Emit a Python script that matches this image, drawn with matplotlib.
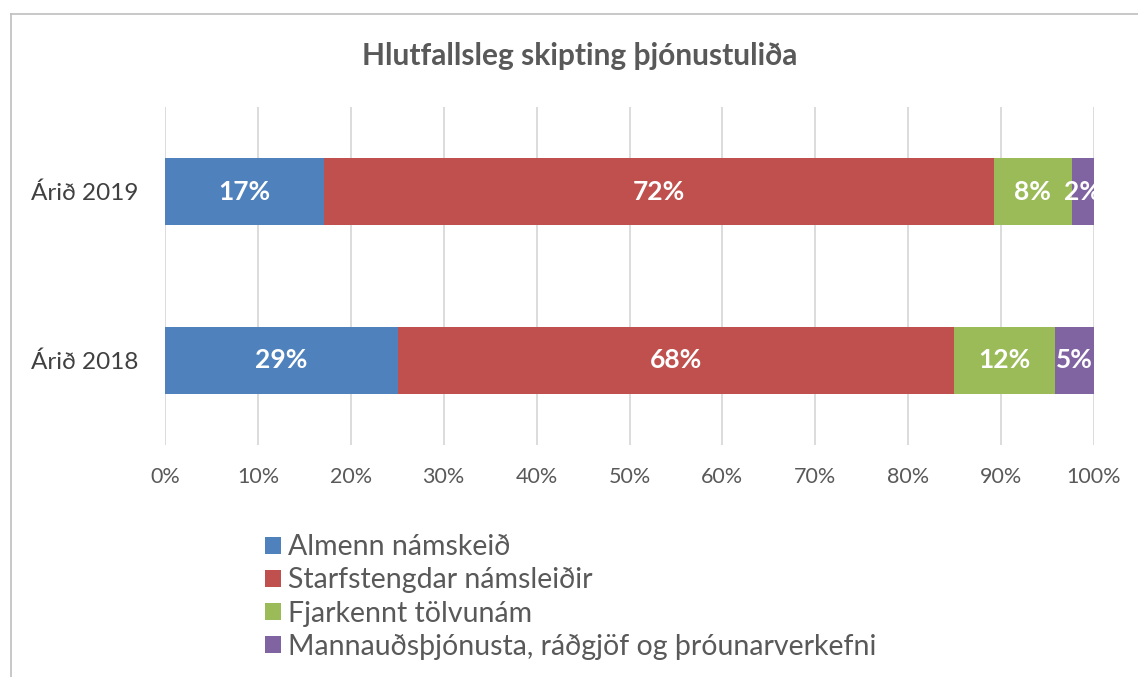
import numpy as np
import matplotlib.pyplot as plt
from matplotlib.lines import Line2D

plt.rcParams['font.family'] = ['Lato', 'DejaVu Sans']

years = ['Árið 2018', 'Árið 2019']
series = ['Almenn námskeið', 'Starfstengdar námsleiðir',
          'Fjarkennt tölvunám', 'Mannauðsþjónusta, ráðgjöf og þróunarverkefni']
colors = ['#4F81BD', '#C0504D', '#9BBB59', '#8064A2']

# values per series, order: 2018, 2019
almenn = [28.6, 17.1]
starf = [68.2, 72.0]
fjar = [12.4, 8.4]
mann = [4.8, 2.4]

vals = np.array([almenn, starf, fjar, mann])
totals = vals.sum(axis=0)
shares = vals / totals * 100

fig = plt.figure(figsize=(11.38, 6.77), dpi=100)
ax = fig.add_axes([165 / 1138, 1 - 445 / 677, (1094 - 165) / 1138, (445 - 107) / 677])

y = np.arange(len(years))
left = np.zeros(len(years))
for i in range(len(series)):
    ax.barh(y, shares[i], left=left, height=0.4, color=colors[i], label=series[i], zorder=3)
    for j in range(len(years)):
        ax.text(left[j] + shares[i][j] / 2, y[j], f'{vals[i][j]:.0f}%', ha='center', va='center',
                color='white', fontsize=19, fontweight='bold', zorder=4)
    left += shares[i]

ax.set_xlim(0, 100)
ax.set_ylim(-0.5, 1.5)
ax.set_xticks(np.arange(0, 101, 10))
ax.set_xticklabels([f'{t}%' for t in range(0, 101, 10)])
ax.set_yticks(y)
ax.set_yticklabels(years)
ax.tick_params(axis='x', labelsize=15.5, colors='#595959', length=0, pad=16)
ax.tick_params(axis='y', labelsize=17.5, colors='#404040', length=0, pad=19.5)
ax.xaxis.grid(True, color='#D9D9D9', linewidth=1.3, zorder=0)
for s in ax.spines.values():
    s.set_visible(False)

fig.text(580 / 1138, 1 - 56 / 677, 'Hlutfallsleg skipting þjónustuliða', ha='center', va='center',
         fontsize=21.5, fontweight='bold', color='#595959')

handles, labels = ax.get_legend_handles_labels()
fig.legend(handles, labels, loc='upper left', bbox_to_anchor=(251 / 1138, 1 - 520 / 677),
           frameon=False, fontsize=20.5, labelcolor='#595959', handlelength=0.55, handleheight=0.55,
           handletextpad=0.25, labelspacing=0.25, borderpad=0)

# chart border
fig.add_artist(Line2D([11 / 1138, 11 / 1138], [0, 1 - 14 / 677], color='#BFBFBF', lw=1.2))
fig.add_artist(Line2D([11 / 1138, 1], [1 - 14 / 677, 1 - 14 / 677], color='#BFBFBF', lw=1.2))

fig.savefig('out.png', dpi=100)
